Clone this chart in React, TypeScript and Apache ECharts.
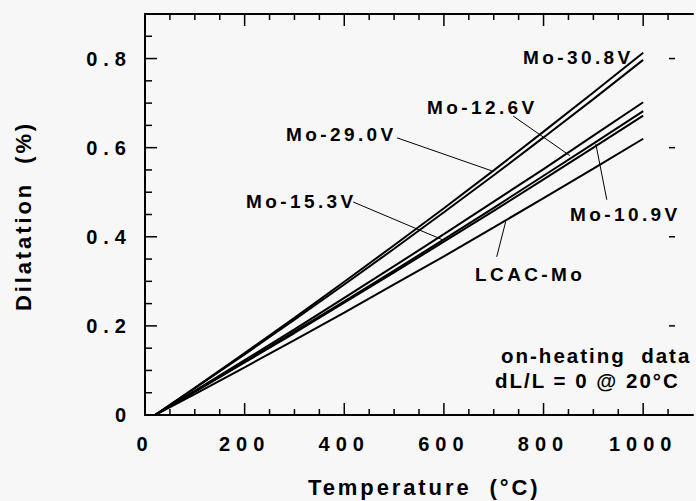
import React, { useEffect, useRef } from "react";
import * as echarts from "echarts";

// ---- data ----
const temps = [20, 100, 200, 300, 400, 500, 600, 700, 800, 900, 1000];
const mo308V = [0, 0.061, 0.139, 0.218, 0.299, 0.381, 0.464, 0.549, 0.636, 0.724, 0.813];
const mo290V = [0, 0.060, 0.136, 0.214, 0.293, 0.373, 0.455, 0.538, 0.623, 0.709, 0.797];
const mo126V = [0, 0.054, 0.123, 0.192, 0.263, 0.334, 0.406, 0.479, 0.552, 0.627, 0.702];
const mo109V = [0, 0.053, 0.119, 0.187, 0.255, 0.324, 0.394, 0.465, 0.537, 0.609, 0.682];
const mo153V = [0, 0.052, 0.118, 0.184, 0.252, 0.320, 0.389, 0.458, 0.529, 0.600, 0.672];
const lcacMo = [0, 0.047, 0.107, 0.168, 0.230, 0.293, 0.356, 0.421, 0.487, 0.553, 0.620];

const seriesNames = ["Mo-30.8V", "Mo-29.0V", "Mo-12.6V", "Mo-10.9V", "Mo-15.3V", "LCAC-Mo"];
const seriesValues = [mo308V, mo290V, mo126V, mo109V, mo153V, lcacMo];

// leader lines [T1, v1, T2, v2] in data units
const leaders = [
  [506, 0.622, 696, 0.548],
  [418, 0.478, 600, 0.392],
  [739, 0.671, 853, 0.582],
  [927, 0.483, 905, 0.608],
  [706, 0.355, 724, 0.434],
];

const xTicks = [0, 200, 400, 600, 800, 1000];
const yTicks = [0, 0.2, 0.4, 0.6, 0.8];
const xMinorStep = 50;
const yMinorStep = 0.05;
const X_MAX = 1100;
const Y_MAX = 0.9;
const xTitle = "Temperature  (°C)";
const yTitle = "Dilatation  (%)";
const note1 = "on-heating  data";
const note2 = "dL/L = 0 @ 20°C";

const FONT = "Liberation Sans";

const css = `
#chart text[style*="20px"]{letter-spacing:6px;}
#chart text[style*="19px"]{letter-spacing:3.4px;}
#chart text[style*="20.5px"]{letter-spacing:2px;}
#chart text[style*="22px"]{letter-spacing:2.9px;}
`;

export default function App() {
  const ref = useRef<HTMLDivElement>(null);
  useEffect(() => {
    const chart = echarts.init(ref.current!, null, { renderer: "svg" });
    const labelFont = { color: "#000", fontSize: 20, fontWeight: "bold", fontFamily: FONT };
    const lineOn = { show: true, onZero: false, lineStyle: { color: "#000", width: 2 } };

    // minor tick positions (every step, excluding the major ones)
    const xMinor: number[] = [];
    for (let i = 1; i * xMinorStep < X_MAX; i++) {
      const v = i * xMinorStep;
      if (!xTicks.includes(v)) xMinor.push(v);
    }
    const yMinor: number[] = [];
    for (let i = 1; i * yMinorStep < Y_MAX - 1e-9; i++) {
      const v = Math.round(i * yMinorStep * 1000) / 1000;
      if (!yTicks.some((k) => Math.abs(k - v) < 1e-9)) yMinor.push(v);
    }

    const tickSeries = (data: number[][], dx1: number, dy1: number, dx2: number, dy2: number) => ({
      type: "custom",
      xAxisIndex: 0,
      yAxisIndex: 0,
      silent: true,
      clip: false,
      z: 10,
      data,
      renderItem: (_p: any, api: any) => {
        const p = api.coord([api.value(0), api.value(1)]);
        return {
          type: "line",
          shape: { x1: p[0] + dx1, y1: p[1] + dy1, x2: p[0] + dx2, y2: p[1] + dy2 },
          style: { stroke: "#000", lineWidth: 1.5 },
        };
      },
    });

    const txt = (text: string, x: number, y: number, size: number, align = "left", rotation = 0) => ({
      type: "text",
      x,
      y,
      rotation,
      silent: true,
      style: {
        text,
        fill: "#000",
        fontSize: size,
        fontWeight: "bold",
        fontFamily: FONT,
        align,
        textAlign: align,
        verticalAlign: "middle",
        textVerticalAlign: "middle",
      },
    });

    const option: any = {
      animation: false,
      backgroundColor: "#f7f7f7",
      grid: { left: 145, top: 14, width: 561, height: 401, containLabel: false },
      xAxis: [
        {
          type: "value",
          min: 0,
          max: X_MAX,
          interval: 200,
          position: "bottom",
          splitLine: { show: false },
          axisLine: lineOn,
          axisTick: { show: false },
          axisLabel: {
            ...labelFont,
            margin: 19,
            formatter: (v: number) => (xTicks.includes(v) ? String(v) : ""),
          },
        },
        {
          type: "value",
          min: 0,
          max: X_MAX,
          interval: 200,
          position: "top",
          splitLine: { show: false },
          axisLine: lineOn,
          axisTick: { show: false },
          axisLabel: { show: false },
        },
      ],
      yAxis: [
        {
          type: "value",
          min: 0,
          max: Y_MAX,
          interval: 0.2,
          position: "left",
          splitLine: { show: false },
          axisLine: lineOn,
          axisTick: { show: false },
          axisLabel: {
            ...labelFont,
            margin: 13,
            formatter: (v: number) => {
              const t = yTicks.find((k) => Math.abs(k - v) < 1e-6);
              if (t === undefined) return "";
              return t === 0 ? "0" : t.toFixed(1);
            },
          },
        },
      ],
      series: [
        ...seriesNames.map((name, i) => ({
          name,
          type: "line",
          xAxisIndex: 0,
          yAxisIndex: 0,
          data: temps.map((t, j) => [t, seriesValues[i][j]]),
          symbol: "none",
          showSymbol: false,
          silent: true,
          lineStyle: { color: "#000", width: 2 },
          ...(i === 0
            ? {
                markLine: {
                  silent: true,
                  symbol: ["none", "none"],
                  label: { show: false },
                  lineStyle: { color: "#000", width: 1, type: "solid" },
                  data: leaders.map((l) => [{ coord: [l[0], l[1]] }, { coord: [l[2], l[3]] }]),
                },
              }
            : {}),
        })),
        // bottom ticks
        tickSeries(xTicks.map((v) => [v, 0]), 0, 0, 0, -12),
        tickSeries(xMinor.map((v) => [v, 0]), 0, 0, 0, -6),
        // top ticks
        tickSeries(xTicks.map((v) => [v, Y_MAX]), 0, 0, 0, 12),
        tickSeries(xMinor.map((v) => [v, Y_MAX]), 0, 0, 0, 6),
        // left ticks
        tickSeries(yTicks.map((v) => [0, v]), 0, 0, 12, 0),
        tickSeries(yMinor.map((v) => [0, v]), 0, 0, 7, 0),
        // right ticks (the right frame lies just beyond the picture edge)
        tickSeries(yTicks.filter((v) => v > 0).map((v) => [X_MAX, v]), -24, 0, -18, 0),
      ],
      graphic: [
        txt("Mo-30.8V", 523, 57.5, 19),
        txt("Mo-12.6V", 427, 107.5, 19),
        txt("Mo-29.0V", 286, 134.5, 19),
        txt("Mo-15.3V", 246, 201, 19),
        txt("Mo-10.9V", 570, 214, 19),
        txt("LCAC-Mo", 475, 274, 19),
        txt(note1, 501, 355, 20.5),
        txt(note2, 495, 380, 20.5),
        txt(xTitle, 308, 487, 22),
        txt(yTitle, 23, 216, 22, "center", Math.PI / 2),
      ],
    };
    chart.setOption(option);
    return () => chart.dispose();
  }, []);
  return (
    <>
      <style>{css}</style>
      <div
        id="chart"
        ref={ref}
        style={{ position: "fixed", left: 0, top: 0, width: 696, height: 501 }}
      />
    </>
  );
}
